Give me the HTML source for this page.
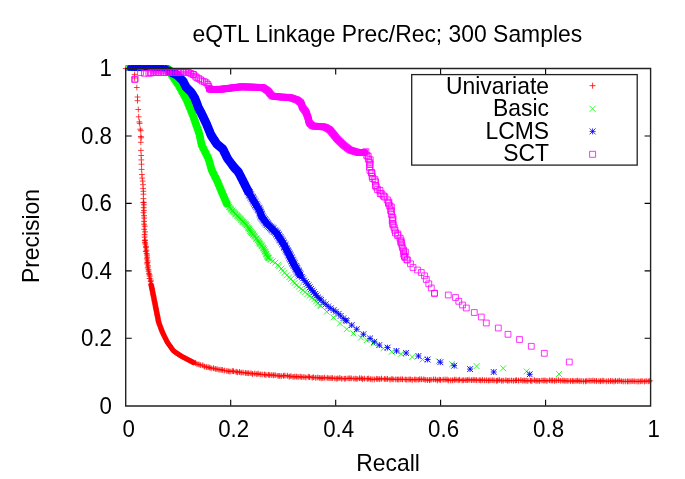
<!DOCTYPE html>
<html><head><meta charset="utf-8"><style>
html,body{margin:0;padding:0;background:#fff;width:685px;height:479px;overflow:hidden}
svg{display:block;will-change:transform}
text{font-family:"Liberation Sans",sans-serif}
</style></head><body>
<svg width="685" height="479" viewBox="0 0 685 479">
<rect width="685" height="479" fill="#fff"/>
<path d="M143.7 202.3 L143.8 214.6 L144.6 229.2 L145.1 240.9 L146.0 249.7 L147.0 258.5 L148.1 268.7 L150.2 279.0 L151.2 285.0" fill="none" stroke="#ff0000" stroke-width="3.0" stroke-linejoin="round" stroke-linecap="round" opacity="0.3"/>
<path d="M140.5 202.6H146.3M143.4 199.7V205.5M141.0 204.8H146.8M143.9 201.9V207.7M140.8 207.7H146.6M143.7 204.8V210.6M141.0 210.6H146.8M143.9 207.7V213.5M140.6 212.7H146.4M143.5 209.8V215.6M141.2 215.7H147.0M144.1 212.8V218.6M141.3 218.1H147.1M144.2 215.2V221.0M141.2 221.4H147.0M144.1 218.5V224.3M141.2 224.2H147.0M144.1 221.3V227.1M141.9 226.2H147.7M144.8 223.3V229.1M141.3 229.3H147.1M144.2 226.4V232.2M142.2 231.9H148.0M145.1 229.0V234.8M141.7 234.6H147.5M144.6 231.7V237.5M141.7 237.1H147.5M144.6 234.2V240.0M142.1 240.1H147.9M145.0 237.2V243.0" fill="none" stroke="#ff0000" stroke-width="1.0" opacity="0.8"/>
<path d="M145.1 240.9 L146.0 249.7 L147.0 258.5 L148.1 268.7 L150.2 279.0 L151.2 285.0" fill="none" stroke="#ff0000" stroke-width="3.5" stroke-linejoin="round" stroke-linecap="round" opacity="0.45"/>
<path d="M141.9 240.6H147.7M144.8 237.7V243.5M142.1 242.7H147.9M145.0 239.8V245.6M142.4 244.0H148.2M145.3 241.1V246.9M143.1 246.3H148.9M146.0 243.4V249.2M143.1 247.7H148.9M146.0 244.8V250.6M143.6 250.2H149.4M146.5 247.3V253.1M142.9 251.5H148.7M145.8 248.6V254.4M143.7 253.6H149.5M146.6 250.7V256.5M144.2 255.1H150.0M147.1 252.2V258.0M144.3 257.2H150.1M147.2 254.3V260.1M143.9 258.9H149.7M146.8 256.0V261.8M144.7 260.9H150.5M147.6 258.0V263.8M144.5 262.5H150.3M147.4 259.6V265.4M144.2 263.9H150.0M147.1 261.0V266.8M145.2 265.9H151.0M148.1 263.0V268.8M144.8 267.8H150.6M147.7 264.9V270.7M145.6 269.7H151.4M148.5 266.8V272.6M145.6 271.2H151.4M148.5 268.3V274.1M146.1 273.3H151.9M149.0 270.4V276.2M146.5 274.7H152.3M149.4 271.8V277.6M146.8 276.1H152.6M149.7 273.2V279.0M146.7 278.5H152.5M149.6 275.6V281.4M148.0 280.2H153.8M150.9 277.3V283.1M147.7 281.6H153.5M150.6 278.7V284.5M148.1 284.1H153.9M151.0 281.2V287.0" fill="none" stroke="#ff0000" stroke-width="1.0" opacity="0.85"/>
<path d="M151.2 285.0 L153.8 297.5 L156.2 310.0 L158.8 322.5 L162.5 332.5 L167.5 342.5 L173.8 351.2 L181.7 356.4 L193.4 362.5" fill="none" stroke="#ff0000" stroke-width="5.0" stroke-linejoin="round" stroke-linecap="round" opacity="1"/>
<path d="M148.3 285.0H154.2M151.2 282.1V287.9M148.6 286.2H154.4M151.5 283.3V289.1M148.8 287.4H154.6M151.7 284.5V290.3M149.1 288.5H154.9M152.0 285.6V291.4M149.3 289.7H155.1M152.2 286.8V292.6M149.5 290.9H155.3M152.4 288.0V293.8M149.8 292.1H155.6M152.7 289.2V295.0M150.0 293.2H155.8M152.9 290.3V296.1M150.2 294.4H156.0M153.1 291.5V297.3M150.5 295.6H156.3M153.4 292.7V298.5M150.7 296.8H156.5M153.6 293.9V299.7M150.9 297.9H156.7M153.8 295.0V300.8M151.2 299.1H157.0M154.1 296.2V302.0M151.4 300.3H157.2M154.3 297.4V303.2M151.6 301.5H157.4M154.5 298.6V304.4M151.9 302.7H157.7M154.8 299.8V305.6M152.1 303.8H157.9M155.0 300.9V306.7M152.4 305.0H158.2M155.3 302.1V307.9M152.6 306.2H158.4M155.5 303.3V309.1M152.8 307.4H158.6M155.7 304.5V310.3M153.1 308.5H158.9M156.0 305.6V311.4M153.3 309.7H159.1M156.2 306.8V312.6M153.5 310.9H159.3M156.4 308.0V313.8M153.8 312.1H159.6M156.7 309.2V315.0M154.0 313.2H159.8M156.9 310.3V316.1M154.2 314.4H160.0M157.1 311.5V317.3M154.5 315.6H160.3M157.4 312.7V318.5M154.7 316.8H160.5M157.6 313.9V319.7M154.9 317.9H160.7M157.8 315.0V320.8M155.2 319.1H161.0M158.1 316.2V322.0M155.4 320.3H161.2M158.3 317.4V323.2M155.6 321.5H161.4M158.5 318.6V324.4M155.9 322.6H161.7M158.8 319.7V325.5M156.3 323.8H162.1M159.2 320.9V326.7M156.7 324.9H162.5M159.6 322.0V327.8M157.2 326.0H163.0M160.1 323.1V328.9M157.6 327.1H163.4M160.5 324.2V330.0M158.0 328.3H163.8M160.9 325.4V331.2M158.4 329.4H164.2M161.3 326.5V332.3M158.9 330.5H164.7M161.8 327.6V333.4M159.3 331.6H165.1M162.2 328.7V334.5M159.7 332.7H165.5M162.6 329.8V335.6M160.3 333.8H166.1M163.2 330.9V336.7M160.8 334.9H166.6M163.7 332.0V337.8M161.3 336.0H167.1M164.2 333.1V338.9M161.9 337.0H167.7M164.8 334.1V339.9M162.4 338.1H168.2M165.3 335.2V341.0M162.9 339.2H168.7M165.8 336.3V342.1M163.5 340.3H169.3M166.4 337.4V343.2M164.0 341.3H169.8M166.9 338.4V344.2M164.6 342.4H170.4M167.5 339.5V345.3M165.2 343.4H171.0M168.1 340.5V346.3M165.9 344.4H171.7M168.8 341.5V347.3M166.6 345.3H172.4M169.5 342.4V348.2M167.3 346.3H173.1M170.2 343.4V349.2M168.0 347.3H173.8M170.9 344.4V350.2M168.7 348.3H174.5M171.6 345.4V351.2M169.4 349.3H175.2M172.3 346.4V352.2M170.1 350.2H175.9M173.0 347.3V353.1M170.8 351.2H176.6M173.7 348.3V354.1M171.8 351.9H177.6M174.7 349.0V354.8M172.8 352.5H178.6M175.7 349.6V355.4M173.8 353.2H179.6M176.7 350.3V356.1M174.8 353.8H180.6M177.7 350.9V356.7M175.8 354.5H181.6M178.7 351.6V357.4M176.8 355.1H182.6M179.7 352.2V358.0M177.9 355.8H183.7M180.8 352.9V358.7M178.9 356.4H184.7M181.8 353.5V359.3M179.9 357.0H185.7M182.8 354.1V359.9M181.0 357.5H186.8M183.9 354.6V360.4M182.1 358.1H187.9M185.0 355.2V361.0M183.1 358.7H188.9M186.0 355.8V361.6M184.2 359.2H190.0M187.1 356.3V362.1M185.2 359.8H191.0M188.1 356.9V362.7M186.3 360.3H192.1M189.2 357.4V363.2M187.4 360.9H193.2M190.3 358.0V363.8M188.4 361.4H194.2M191.3 358.5V364.3M189.5 362.0H195.3M192.4 359.1V364.9" fill="none" stroke="#ff0000" stroke-width="1.0" opacity="0.85"/>
<path d="M193.4 362.5 L205.0 366.6 L216.7 369.2 L228.4 371.0 L240.0 372.4 L250.0 373.4 L275.0 375.3 L294.0 376.6 L330.0 378.2 L410.0 379.6 L470.0 380.2 L540.0 380.6 L600.0 381.0 L650.0 381.3" fill="none" stroke="#ff0000" stroke-width="4.5" stroke-linejoin="round" stroke-linecap="round" opacity="0.3"/>
<path d="M190.8 362.5H196.6M193.7 359.6V365.4M192.7 362.9H198.5M195.6 360.0V365.8M194.1 364.2H199.9M197.0 361.3V367.1M196.0 364.4H201.8M198.9 361.5V367.3M197.4 365.1H203.2M200.3 362.2V368.0M199.9 365.2H205.7M202.8 362.3V368.1M201.5 366.6H207.3M204.4 363.7V369.5M203.5 367.1H209.3M206.4 364.2V370.0M205.2 367.2H211.0M208.1 364.3V370.1M206.8 367.6H212.6M209.7 364.7V370.5M208.2 368.4H214.0M211.1 365.5V371.3M210.6 368.2H216.4M213.5 365.3V371.1M212.4 368.9H218.2M215.3 366.0V371.8M214.1 369.1H219.9M217.0 366.2V372.0M216.1 369.7H221.9M219.0 366.8V372.6M218.1 369.8H223.9M221.0 366.9V372.7M219.4 369.9H225.2M222.3 367.0V372.8M221.4 370.5H227.2M224.3 367.6V373.4M224.0 371.0H229.8M226.9 368.1V373.9M225.8 371.3H231.6M228.7 368.4V374.2M227.1 371.6H232.9M230.0 368.7V374.5M229.4 371.0H235.2M232.3 368.1V373.9M230.6 371.2H236.4M233.5 368.3V374.1M233.3 371.7H239.1M236.2 368.8V374.6M234.5 372.3H240.3M237.4 369.4V375.2M236.6 371.9H242.4M239.5 369.0V374.8M238.3 372.6H244.1M241.2 369.7V375.5M240.2 372.5H246.0M243.1 369.6V375.4M242.7 372.9H248.5M245.6 370.0V375.8M244.2 373.1H250.0M247.1 370.2V376.0M245.8 373.2H251.6M248.7 370.3V376.1M248.1 373.2H253.9M251.0 370.3V376.1M249.6 374.0H255.4M252.5 371.1V376.9M251.9 373.5H257.7M254.8 370.6V376.4M253.9 374.2H259.7M256.8 371.3V377.1M255.2 373.6H261.0M258.1 370.7V376.5M257.3 374.4H263.1M260.2 371.5V377.3M259.2 374.5H265.0M262.1 371.6V377.4M261.6 374.5H267.4M264.5 371.6V377.4M263.0 375.1H268.8M265.9 372.2V378.0M265.5 374.8H271.3M268.4 371.9V377.7M266.8 375.1H272.6M269.7 372.2V378.0M268.9 375.1H274.7M271.8 372.2V378.0M270.7 375.3H276.5M273.6 372.4V378.2M272.3 375.1H278.1M275.2 372.2V378.0M275.1 375.9H280.9M278.0 373.0V378.8M276.4 376.0H282.2M279.3 373.1V378.9M278.3 376.2H284.1M281.2 373.3V379.1M280.6 375.8H286.4M283.5 372.9V378.7M282.0 375.5H287.8M284.9 372.6V378.4M284.5 375.7H290.3M287.4 372.8V378.6M286.4 376.7H292.2M289.3 373.8V379.6M288.0 376.1H293.8M290.9 373.2V379.0M290.2 377.0H296.0M293.1 374.1V379.9M291.9 376.6H297.7M294.8 373.7V379.5M293.5 376.6H299.3M296.4 373.7V379.5M295.2 377.0H301.0M298.1 374.1V379.9M297.3 376.6H303.1M300.2 373.7V379.5M298.9 377.1H304.7M301.8 374.2V380.0M301.0 377.0H306.8M303.9 374.1V379.9M302.9 377.5H308.7M305.8 374.6V380.4M305.4 376.7H311.2M308.3 373.8V379.6M306.6 377.1H312.4M309.5 374.2V380.0M309.3 377.7H315.1M312.2 374.8V380.6M310.5 377.2H316.3M313.4 374.3V380.1M312.8 377.9H318.6M315.7 375.0V380.8M314.9 377.5H320.7M317.8 374.6V380.4M316.8 377.9H322.6M319.7 375.0V380.8M318.3 378.3H324.1M321.2 375.4V381.2M319.9 378.1H325.7M322.8 375.2V381.0M321.7 377.6H327.5M324.6 374.7V380.5M324.4 377.8H330.2M327.3 374.9V380.7M326.1 378.2H331.9M329.0 375.3V381.1M328.1 378.1H333.9M331.0 375.2V381.0M329.5 378.0H335.3M332.4 375.1V380.9M332.0 378.4H337.8M334.9 375.5V381.3M333.9 378.7H339.7M336.8 375.8V381.6M335.0 378.4H340.8M337.9 375.5V381.3M336.9 377.9H342.7M339.8 375.0V380.8M338.8 378.8H344.6M341.7 375.9V381.7M341.4 378.8H347.2M344.3 375.9V381.7M342.8 378.6H348.6M345.7 375.7V381.5M345.2 378.4H351.0M348.1 375.5V381.3M346.9 378.3H352.7M349.8 375.4V381.2M348.3 378.3H354.1M351.2 375.4V381.2M351.0 378.7H356.8M353.9 375.8V381.6M352.9 378.6H358.7M355.8 375.7V381.5M354.2 379.0H360.0M357.1 376.1V381.9M356.6 378.2H362.4M359.5 375.3V381.1M358.4 378.3H364.2M361.3 375.4V381.2M359.7 379.2H365.5M362.6 376.3V382.1M361.5 378.6H367.3M364.4 375.7V381.5M364.4 378.8H370.2M367.3 375.9V381.7M365.4 378.5H371.2M368.3 375.6V381.4M367.4 379.2H373.2M370.3 376.3V382.1M369.2 379.4H375.0M372.1 376.5V382.3M371.4 379.4H377.2M374.3 376.5V382.3M373.8 378.8H379.6M376.7 375.9V381.7M375.0 379.0H380.8M377.9 376.1V381.9M376.8 379.2H382.6M379.7 376.3V382.1M378.6 378.6H384.4M381.5 375.7V381.5M381.5 378.9H387.3M384.4 376.0V381.8M383.0 379.1H388.8M385.9 376.2V382.0M384.6 378.8H390.4M387.5 375.9V381.7M387.1 379.7H392.9M390.0 376.8V382.6M389.0 378.9H394.8M391.9 376.0V381.8M390.2 379.4H396.0M393.1 376.5V382.3M392.9 379.4H398.7M395.8 376.5V382.3M394.5 379.5H400.3M397.4 376.6V382.4M395.9 379.5H401.7M398.8 376.6V382.4M397.9 379.2H403.7M400.8 376.3V382.1M399.6 379.3H405.4M402.5 376.4V382.2M402.4 379.5H408.2M405.3 376.6V382.4M403.9 379.7H409.7M406.8 376.8V382.6M406.1 379.5H411.9M409.0 376.6V382.4M407.4 379.4H413.2M410.3 376.5V382.3M409.3 380.0H415.1M412.2 377.1V382.9M411.8 379.4H417.6M414.7 376.5V382.3M413.1 379.7H418.9M416.0 376.8V382.6M415.3 379.8H421.1M418.2 376.9V382.7M416.8 379.2H422.6M419.7 376.3V382.1M418.7 379.3H424.5M421.6 376.4V382.2M420.9 379.3H426.7M423.8 376.4V382.2M422.3 379.9H428.1M425.2 377.0V382.8M424.5 380.1H430.3M427.4 377.2V383.0M426.6 380.2H432.4M429.5 377.3V383.1M428.1 379.8H433.9M431.0 376.9V382.7M430.7 379.4H436.5M433.6 376.5V382.3M432.7 379.5H438.5M435.6 376.6V382.4M434.5 380.4H440.3M437.4 377.5V383.3M436.4 379.7H442.2M439.3 376.8V382.6M437.6 379.9H443.4M440.5 377.0V382.8M440.3 379.7H446.1M443.2 376.8V382.6M442.2 379.6H448.0M445.1 376.7V382.5M444.1 379.5H449.9M447.0 376.6V382.4M445.4 380.4H451.2M448.3 377.5V383.3M447.8 380.4H453.6M450.7 377.5V383.3M449.7 380.3H455.5M452.6 377.4V383.2M451.5 379.7H457.3M454.4 376.8V382.6M453.1 379.7H458.9M456.0 376.8V382.6M455.3 380.2H461.1M458.2 377.3V383.1M456.7 379.7H462.5M459.6 376.8V382.6M459.3 380.4H465.1M462.2 377.5V383.3M460.8 380.2H466.6M463.7 377.3V383.1M463.0 380.1H468.8M465.9 377.2V383.0M464.5 380.0H470.3M467.4 377.1V382.9M466.2 379.7H472.0M469.1 376.8V382.6M468.5 380.1H474.3M471.4 377.2V383.0M470.3 379.8H476.1M473.2 376.9V382.7M472.0 379.9H477.8M474.9 377.0V382.8M473.7 380.0H479.5M476.6 377.1V382.9M476.3 380.1H482.1M479.2 377.2V383.0M477.8 380.4H483.6M480.7 377.5V383.3M479.5 379.8H485.3M482.4 376.9V382.7M481.7 380.3H487.5M484.6 377.4V383.2M483.7 380.2H489.5M486.6 377.3V383.1M485.7 380.5H491.5M488.6 377.6V383.4M487.1 380.3H492.9M490.0 377.4V383.2M489.3 380.1H495.1M492.2 377.2V383.0M491.1 380.4H496.9M494.0 377.5V383.3M493.5 380.8H499.3M496.4 377.9V383.7M494.7 380.5H500.5M497.6 377.6V383.4M496.4 379.9H502.2M499.3 377.0V382.8M498.8 380.8H504.6M501.7 377.9V383.7M500.3 380.7H506.1M503.2 377.8V383.6M503.0 380.2H508.8M505.9 377.3V383.1M504.7 380.8H510.5M507.6 377.9V383.7M506.2 380.6H512.0M509.1 377.7V383.5M508.5 380.5H514.3M511.4 377.6V383.4M510.5 380.8H516.3M513.4 377.9V383.7M512.5 380.5H518.3M515.4 377.6V383.4M513.6 380.2H519.4M516.5 377.3V383.1M515.6 380.5H521.4M518.5 377.6V383.4M518.0 380.0H523.8M520.9 377.1V382.9M519.9 380.7H525.7M522.8 377.8V383.6M521.4 380.5H527.2M524.3 377.6V383.4M523.1 380.8H528.9M526.0 377.9V383.7M524.9 381.0H530.7M527.8 378.1V383.9M527.6 380.7H533.4M530.5 377.8V383.6M528.9 381.0H534.7M531.8 378.1V383.9M531.5 380.2H537.3M534.4 377.3V383.1M533.2 380.9H539.0M536.1 378.0V383.8M535.0 380.8H540.8M537.9 377.9V383.7M536.7 381.0H542.5M539.6 378.1V383.9M539.1 380.5H544.9M542.0 377.6V383.4M540.9 380.6H546.7M543.8 377.7V383.5M542.1 380.5H547.9M545.0 377.6V383.4M544.0 381.1H549.8M546.9 378.2V384.0M546.7 380.3H552.5M549.6 377.4V383.2M548.3 380.6H554.1M551.2 377.7V383.5M549.7 380.5H555.5M552.6 377.6V383.4M551.7 380.9H557.5M554.6 378.0V383.8M553.4 380.4H559.2M556.3 377.5V383.3M555.7 380.2H561.5M558.6 377.3V383.1M557.8 380.8H563.6M560.7 377.9V383.7M559.9 380.5H565.7M562.8 377.6V383.4M561.3 380.8H567.1M564.2 377.9V383.7M563.1 380.9H568.9M566.0 378.0V383.8M565.0 381.0H570.8M567.9 378.1V383.9M567.5 381.1H573.3M570.4 378.2V384.0M569.5 380.9H575.3M572.4 378.0V383.8M571.0 381.2H576.8M573.9 378.3V384.1M573.1 380.9H578.9M576.0 378.0V383.8M574.7 380.6H580.5M577.6 377.7V383.5M576.3 381.2H582.1M579.2 378.3V384.1M578.2 381.1H584.0M581.1 378.2V384.0M580.5 381.4H586.3M583.4 378.5V384.3M582.6 381.4H588.4M585.5 378.5V384.3M583.9 380.9H589.7M586.8 378.0V383.8M586.2 380.7H592.0M589.1 377.8V383.6M588.1 380.8H593.9M591.0 377.9V383.7M590.0 380.5H595.8M592.9 377.6V383.4M591.8 380.9H597.6M594.7 378.0V383.8M593.6 380.9H599.4M596.5 378.0V383.8M596.0 381.2H601.8M598.9 378.3V384.1M597.6 381.2H603.4M600.5 378.3V384.1M599.3 380.7H605.1M602.2 377.8V383.6M600.9 380.8H606.7M603.8 377.9V383.7M603.4 381.4H609.2M606.3 378.5V384.3M605.5 381.1H611.3M608.4 378.2V384.0M607.6 381.0H613.4M610.5 378.1V383.9M609.3 381.0H615.1M612.2 378.1V383.9M611.1 381.6H616.9M614.0 378.7V384.5M612.6 380.8H618.4M615.5 377.9V383.7M614.8 381.1H620.6M617.7 378.2V384.0M616.4 380.6H622.2M619.3 377.7V383.5M618.4 381.1H624.2M621.3 378.2V384.0M620.3 381.5H626.1M623.2 378.6V384.4M622.4 381.4H628.2M625.3 378.5V384.3M624.6 381.4H630.4M627.5 378.5V384.3M626.1 381.4H631.9M629.0 378.5V384.3M628.1 381.3H633.9M631.0 378.4V384.2M630.0 381.1H635.8M632.9 378.2V384.0M631.9 381.3H637.7M634.8 378.4V384.2M634.1 381.5H639.9M637.0 378.6V384.4M635.9 381.5H641.7M638.8 378.6V384.4M637.8 381.3H643.6M640.7 378.4V384.2M639.2 381.0H645.0M642.1 378.1V383.9M641.5 381.6H647.3M644.4 378.7V384.5M643.2 380.9H649.0M646.1 378.0V383.8M645.4 381.3H651.2M648.3 378.4V384.2M646.9 380.8H652.7M649.8 377.9V383.7" fill="none" stroke="#ff0000" stroke-width="1.0" opacity="0.8"/>
<path d="M122.8 68.5H128.6M125.7 65.6V71.4M131.7 74.4H137.5M134.6 71.5V77.3M131.7 78.0H137.5M134.6 75.1V80.9M133.9 87.5H139.7M136.8 84.6V90.4M134.6 97.0H140.4M137.5 94.1V99.9M134.6 100.7H140.4M137.5 97.8V103.6M135.4 109.5H141.2M138.3 106.6V112.4M135.8 116.8H141.6M138.7 113.9V119.7M136.4 121.9H142.2M139.3 119.0V124.8M136.8 123.4H142.6M139.7 120.5V126.3M137.3 129.2H143.1M140.2 126.3V132.1M137.9 130.7H143.7M140.8 127.8V133.6M137.9 136.5H143.7M140.8 133.6V139.4M138.3 137.8H144.1M141.2 134.9V140.7M137.9 142.3H143.7M140.8 139.4V145.2M138.0 150.4H143.8M140.9 147.5V153.3M138.3 155.5H144.1M141.2 152.6V158.4M138.4 159.9H144.2M141.3 157.0V162.8M138.6 164.2H144.4M141.5 161.3V167.1M138.7 169.4H144.5M141.6 166.5V172.3M139.0 174.5H144.8M141.9 171.6V177.4M139.3 178.1H145.1M142.2 175.2V181.0M139.8 181.1H145.6M142.7 178.2V184.0M140.1 184.7H145.9M143.0 181.8V187.6M140.2 188.4H146.0M143.1 185.5V191.3M140.5 191.3H146.3M143.4 188.4V194.2M140.5 194.2H146.3M143.4 191.3V197.1M140.5 198.6H146.3M143.4 195.7V201.5M140.8 202.3H146.6M143.7 199.4V205.2" fill="none" stroke="#ff0000" stroke-width="1.0" opacity="0.75"/>
<path d="M128.3 68.0 L168.0 69.0" fill="none" stroke="#00ff00" stroke-width="3.0" stroke-linejoin="round" stroke-linecap="round" opacity="1"/>
<path d="M125.4 65.1L131.2 70.9M125.4 70.9L131.2 65.1M126.9 65.1L132.7 70.9M126.9 70.9L132.7 65.1M128.4 65.2L134.2 71.0M128.4 71.0L134.2 65.2M129.9 65.2L135.7 71.0M129.9 71.0L135.7 65.2M131.4 65.3L137.2 71.1M131.4 71.1L137.2 65.3M132.9 65.3L138.7 71.1M132.9 71.1L138.7 65.3M134.4 65.3L140.2 71.1M134.4 71.1L140.2 65.3M135.9 65.4L141.7 71.2M135.9 71.2L141.7 65.4M137.4 65.4L143.2 71.2M137.4 71.2L143.2 65.4M138.9 65.4L144.7 71.2M138.9 71.2L144.7 65.4M140.4 65.5L146.2 71.3M140.4 71.3L146.2 65.5M141.9 65.5L147.7 71.3M141.9 71.3L147.7 65.5M143.4 65.6L149.2 71.4M143.4 71.4L149.2 65.6M144.9 65.6L150.7 71.4M144.9 71.4L150.7 65.6M146.4 65.6L152.2 71.4M146.4 71.4L152.2 65.6M147.9 65.7L153.7 71.5M147.9 71.5L153.7 65.7M149.4 65.7L155.2 71.5M149.4 71.5L155.2 65.7M150.9 65.7L156.7 71.5M150.9 71.5L156.7 65.7M152.4 65.8L158.2 71.6M152.4 71.6L158.2 65.8M153.9 65.8L159.7 71.6M153.9 71.6L159.7 65.8M155.4 65.9L161.2 71.7M155.4 71.7L161.2 65.9M156.9 65.9L162.7 71.7M156.9 71.7L162.7 65.9M158.4 65.9L164.2 71.7M158.4 71.7L164.2 65.9M159.9 66.0L165.7 71.8M159.9 71.8L165.7 66.0M161.4 66.0L167.2 71.8M161.4 71.8L167.2 66.0M162.9 66.0L168.7 71.8M162.9 71.8L168.7 66.0M164.4 66.1L170.2 71.9M164.4 71.9L170.2 66.1" fill="none" stroke="#00ff00" stroke-width="1.0" opacity="0.85"/>
<path d="M168.0 69.0 L173.0 77.0 L179.0 86.0 L183.5 94.3 L186.7 100.0 L193.4 116.7 L199.2 133.4 L201.7 145.1 L208.4 158.4 L211.7 170.0 L216.7 180.0 L221.7 191.7 L226.7 203.4" fill="none" stroke="#00ff00" stroke-width="7.6" stroke-linejoin="round" stroke-linecap="round" opacity="1"/>
<path d="M165.1 66.1L170.9 71.9M165.1 71.9L170.9 66.1M165.9 67.4L171.7 73.2M165.9 73.2L171.7 67.4M166.7 68.6L172.5 74.4M166.7 74.4L172.5 68.6M167.5 69.9L173.3 75.7M167.5 75.7L173.3 69.9M168.3 71.2L174.1 77.0M168.3 77.0L174.1 71.2M169.1 72.5L174.9 78.3M169.1 78.3L174.9 72.5M169.9 73.7L175.7 79.5M169.9 79.5L175.7 73.7M170.7 75.0L176.5 80.8M170.7 80.8L176.5 75.0M171.5 76.2L177.3 82.0M171.5 82.0L177.3 76.2M172.4 77.5L178.2 83.3M172.4 83.3L178.2 77.5M173.2 78.7L179.0 84.5M173.2 84.5L179.0 78.7M174.0 80.0L179.8 85.8M174.0 85.8L179.8 80.0M174.9 81.2L180.7 87.0M174.9 87.0L180.7 81.2M175.7 82.5L181.5 88.3M175.7 88.3L181.5 82.5M176.5 83.8L182.3 89.6M176.5 89.6L182.3 83.8M177.2 85.1L183.0 90.9M177.2 90.9L183.0 85.1M177.9 86.4L183.7 92.2M177.9 92.2L183.7 86.4M178.6 87.7L184.4 93.5M178.6 93.5L184.4 87.7M179.3 89.0L185.1 94.8M179.3 94.8L185.1 89.0M180.0 90.4L185.8 96.2M180.0 96.2L185.8 90.4M180.8 91.7L186.6 97.5M180.8 97.5L186.6 91.7M181.5 93.0L187.3 98.8M181.5 98.8L187.3 93.0M182.2 94.3L188.0 100.1M182.2 100.1L188.0 94.3M183.0 95.6L188.8 101.4M183.0 101.4L188.8 95.6M183.7 96.9L189.5 102.7M183.7 102.7L189.5 96.9M184.3 98.3L190.1 104.1M184.3 104.1L190.1 98.3M184.8 99.7L190.6 105.5M184.8 105.5L190.6 99.7M185.4 101.1L191.2 106.9M185.4 106.9L191.2 101.1M185.9 102.5L191.7 108.3M185.9 108.3L191.7 102.5M186.5 103.8L192.3 109.6M186.5 109.6L192.3 103.8M187.1 105.2L192.9 111.0M187.1 111.0L192.9 105.2M187.6 106.6L193.4 112.4M187.6 112.4L193.4 106.6M188.2 108.0L194.0 113.8M188.2 113.8L194.0 108.0M188.7 109.4L194.5 115.2M188.7 115.2L194.5 109.4M189.3 110.8L195.1 116.6M189.3 116.6L195.1 110.8M189.9 112.2L195.7 118.0M189.9 118.0L195.7 112.2M190.4 113.6L196.2 119.4M190.4 119.4L196.2 113.6M190.9 115.0L196.7 120.8M190.9 120.8L196.7 115.0M191.4 116.4L197.2 122.2M191.4 122.2L197.2 116.4M191.9 117.8L197.7 123.6M191.9 123.6L197.7 117.8M192.4 119.3L198.2 125.1M192.4 125.1L198.2 119.3M192.9 120.7L198.7 126.5M192.9 126.5L198.7 120.7M193.4 122.1L199.2 127.9M193.4 127.9L199.2 122.1M193.9 123.5L199.7 129.3M193.9 129.3L199.7 123.5M194.4 124.9L200.2 130.7M194.4 130.7L200.2 124.9M194.9 126.3L200.7 132.1M194.9 132.1L200.7 126.3M195.3 127.8L201.1 133.6M195.3 133.6L201.1 127.8M195.8 129.2L201.6 135.0M195.8 135.0L201.6 129.2M196.3 130.6L202.1 136.4M196.3 136.4L202.1 130.6M196.6 132.1L202.4 137.9M196.6 137.9L202.4 132.1M196.9 133.5L202.7 139.3M196.9 139.3L202.7 133.5M197.3 135.0L203.1 140.8M197.3 140.8L203.1 135.0M197.6 136.5L203.4 142.3M197.6 142.3L203.4 136.5M197.9 137.9L203.7 143.7M197.9 143.7L203.7 137.9M198.2 139.4L204.0 145.2M198.2 145.2L204.0 139.4M198.5 140.9L204.3 146.7M198.5 146.7L204.3 140.9M198.9 142.3L204.7 148.1M198.9 148.1L204.7 142.3M199.5 143.7L205.3 149.5M199.5 149.5L205.3 143.7M200.2 145.0L206.0 150.8M200.2 150.8L206.0 145.0M200.9 146.3L206.7 152.1M200.9 152.1L206.7 146.3M201.6 147.7L207.4 153.5M201.6 153.5L207.4 147.7M202.2 149.0L208.0 154.8M202.2 154.8L208.0 149.0M202.9 150.4L208.7 156.2M202.9 156.2L208.7 150.4M203.6 151.7L209.4 157.5M203.6 157.5L209.4 151.7M204.3 153.0L210.1 158.8M204.3 158.8L210.1 153.0M204.9 154.4L210.7 160.2M204.9 160.2L210.7 154.4M205.6 155.7L211.4 161.5M205.6 161.5L211.4 155.7M206.0 157.2L211.8 163.0M206.0 163.0L211.8 157.2M206.4 158.6L212.2 164.4M206.4 164.4L212.2 158.6M206.8 160.1L212.6 165.9M206.8 165.9L212.6 160.1M207.2 161.5L213.0 167.3M207.2 167.3L213.0 161.5M207.6 162.9L213.4 168.7M207.6 168.7L213.4 162.9M208.0 164.4L213.8 170.2M208.0 170.2L213.8 164.4M208.4 165.8L214.2 171.6M208.4 171.6L214.2 165.8M208.9 167.3L214.7 173.1M208.9 173.1L214.7 167.3M209.6 168.6L215.4 174.4M209.6 174.4L215.4 168.6M210.2 169.9L216.0 175.7M210.2 175.7L216.0 169.9M210.9 171.3L216.7 177.1M210.9 177.1L216.7 171.3M211.6 172.6L217.4 178.4M211.6 178.4L217.4 172.6M212.2 174.0L218.0 179.8M212.2 179.8L218.0 174.0M212.9 175.3L218.7 181.1M212.9 181.1L218.7 175.3M213.6 176.7L219.4 182.5M213.6 182.5L219.4 176.7M214.2 178.0L220.0 183.8M214.2 183.8L220.0 178.0M214.8 179.4L220.6 185.2M214.8 185.2L220.6 179.4M215.4 180.8L221.2 186.6M215.4 186.6L221.2 180.8M216.0 182.2L221.8 188.0M216.0 188.0L221.8 182.2M216.6 183.5L222.4 189.3M216.6 189.3L222.4 183.5M217.1 184.9L222.9 190.7M217.1 190.7L222.9 184.9M217.7 186.3L223.5 192.1M217.7 192.1L223.5 186.3M218.3 187.7L224.1 193.5M218.3 193.5L224.1 187.7M218.9 189.1L224.7 194.9M218.9 194.9L224.7 189.1M219.5 190.4L225.3 196.2M219.5 196.2L225.3 190.4M220.1 191.8L225.9 197.6M220.1 197.6L225.9 191.8M220.7 193.2L226.5 199.0M220.7 199.0L226.5 193.2M221.3 194.6L227.1 200.4M221.3 200.4L227.1 194.6M221.9 196.0L227.7 201.8M221.9 201.8L227.7 196.0M222.4 197.3L228.2 203.1M222.4 203.1L228.2 197.3M223.0 198.7L228.8 204.5M223.0 204.5L228.8 198.7M223.6 200.1L229.4 205.9M223.6 205.9L229.4 200.1" fill="none" stroke="#00ff00" stroke-width="1.0" opacity="0.85"/>
<path d="M226.7 203.4 L231.7 210.1 L238.6 216.7 L244.9 223.4 L249.9 230.1 L255.1 236.8 L260.1 243.5 L263.4 248.5 L268.4 258.4" fill="none" stroke="#00ff00" stroke-width="6.5" stroke-linejoin="round" stroke-linecap="round" opacity="0.4"/>
<path d="M223.8 200.7L229.6 206.5M223.8 206.5L229.6 200.7M224.5 201.4L230.3 207.2M224.5 207.2L230.3 201.4M225.5 202.1L231.3 207.9M225.5 207.9L231.3 202.1M226.1 204.1L231.9 209.9M226.1 209.9L231.9 204.1M227.1 204.6L232.9 210.4M227.1 210.4L232.9 204.6M227.9 205.8L233.7 211.6M227.9 211.6L233.7 205.8M228.2 206.5L234.0 212.3M228.2 212.3L234.0 206.5M229.7 207.5L235.5 213.3M229.7 213.3L235.5 207.5M229.8 208.9L235.6 214.7M229.8 214.7L235.6 208.9M231.2 209.4L237.0 215.2M231.2 215.2L237.0 209.4M232.2 210.6L238.0 216.4M232.2 216.4L238.0 210.6M232.8 211.5L238.6 217.3M232.8 217.3L238.6 211.5M234.2 212.5L240.0 218.3M234.2 218.3L240.0 212.5M234.7 213.2L240.5 219.0M234.7 219.0L240.5 213.2M235.6 214.1L241.4 219.9M235.6 219.9L241.4 214.1M236.5 215.2L242.3 221.0M236.5 221.0L242.3 215.2M238.0 215.7L243.8 221.5M238.0 221.5L243.8 215.7M238.3 217.3L244.1 223.1M238.3 223.1L244.1 217.3M239.7 218.1L245.5 223.9M239.7 223.9L245.5 218.1M239.9 219.1L245.7 224.9M239.9 224.9L245.7 219.1M241.4 219.5L247.2 225.3M241.4 225.3L247.2 219.5M242.0 220.9L247.8 226.7M242.0 226.7L247.8 220.9M243.2 221.4L249.0 227.2M243.2 227.2L249.0 221.4M243.8 222.4L249.6 228.2M243.8 228.2L249.6 222.4M244.9 223.7L250.7 229.5M244.9 229.5L250.7 223.7M245.6 225.1L251.4 230.9M245.6 230.9L251.4 225.1M246.1 225.6L251.9 231.4M246.1 231.4L251.9 225.6M246.8 226.5L252.6 232.3M246.8 232.3L252.6 226.5M247.2 228.2L253.0 234.0M247.2 234.0L253.0 228.2M248.2 229.2L254.0 235.0M248.2 235.0L254.0 229.2M248.9 230.2L254.7 236.0M248.9 236.0L254.7 230.2M250.2 230.8L256.0 236.6M250.2 236.6L256.0 230.8M250.4 231.9L256.2 237.7M250.4 237.7L256.2 231.9M251.6 232.7L257.4 238.5M251.6 238.5L257.4 232.7M252.0 233.7L257.8 239.5M252.0 239.5L257.8 233.7M253.2 235.5L259.0 241.3M253.2 241.3L259.0 235.5M253.6 235.7L259.4 241.5M253.6 241.5L259.4 235.7M254.9 237.5L260.7 243.3M254.9 243.3L260.7 237.5M255.9 238.4L261.7 244.2M255.9 244.2L261.7 238.4M256.1 239.7L261.9 245.5M256.1 245.5L261.9 239.7M256.6 240.5L262.4 246.3M256.6 246.3L262.4 240.5M257.3 241.3L263.1 247.1M257.3 247.1L263.1 241.3M258.5 242.4L264.3 248.2M258.5 248.2L264.3 242.4M258.8 243.3L264.6 249.1M258.8 249.1L264.6 243.3M260.2 244.6L266.0 250.4M260.2 250.4L266.0 244.6M260.7 245.5L266.5 251.3M260.7 251.3L266.5 245.5M261.4 246.8L267.2 252.6M261.4 252.6L267.2 246.8M261.9 248.5L267.7 254.3M261.9 254.3L267.7 248.5M262.8 248.8L268.6 254.6M262.8 254.6L268.6 248.8M263.2 250.8L269.0 256.6M263.2 256.6L269.0 250.8M263.3 251.5L269.1 257.3M263.3 257.3L269.1 251.5M264.2 253.2L270.0 259.0M264.2 259.0L270.0 253.2M264.6 254.3L270.4 260.1M264.6 260.1L270.4 254.3M265.5 254.7L271.3 260.5M265.5 260.5L271.3 254.7" fill="none" stroke="#00ff00" stroke-width="1.0" opacity="0.8"/>
<path d="M265.8 255.1L271.6 260.9M265.8 260.9L271.6 255.1M267.6 257.1L273.4 262.9M267.6 262.9L273.4 257.1M269.9 258.3L275.7 264.1M269.9 264.1L275.7 258.3M272.4 259.8L278.2 265.6M272.4 265.6L278.2 259.8M275.0 262.0L280.8 267.8M275.0 267.8L280.8 262.0M276.1 263.5L281.9 269.3M276.1 269.3L281.9 263.5M278.5 265.7L284.3 271.5M278.5 271.5L284.3 265.7M279.8 267.9L285.6 273.7M279.8 273.7L285.6 267.9M281.6 269.9L287.4 275.7M281.6 275.7L287.4 269.9M284.0 272.4L289.8 278.2M284.0 278.2L289.8 272.4M286.1 274.5L291.9 280.3M286.1 280.3L291.9 274.5M288.0 276.1L293.8 281.9M288.0 281.9L293.8 276.1M290.0 278.6L295.8 284.4M290.0 284.4L295.8 278.6M291.9 280.0L297.7 285.8M291.9 285.8L297.7 280.0M293.4 282.5L299.2 288.3M293.4 288.3L299.2 282.5M295.9 284.0L301.7 289.8M295.9 289.8L301.7 284.0M298.1 285.9L303.9 291.7M298.1 291.7L303.9 285.9M300.2 287.2L306.0 293.0M300.2 293.0L306.0 287.2M302.3 289.2L308.1 295.0M302.3 295.0L308.1 289.2M304.3 291.4L310.1 297.2M304.3 297.2L310.1 291.4M306.7 292.9L312.5 298.7M306.7 298.7L312.5 292.9M309.1 294.8L314.9 300.6M309.1 300.6L314.9 294.8M311.3 296.5L317.1 302.3M311.3 302.3L317.1 296.5M313.0 298.6L318.8 304.4M313.0 304.4L318.8 298.6M314.9 300.5L320.7 306.3M314.9 306.3L320.7 300.5M317.4 302.5L323.2 308.3M317.4 308.3L323.2 302.5" fill="none" stroke="#00ff00" stroke-width="1.0" opacity="0.8"/>
<path d="M317.9 303.0L323.7 308.8M317.9 308.8L323.7 303.0M323.8 308.8L329.6 314.6M323.8 314.6L329.6 308.8M330.5 314.6L336.3 320.4M330.5 320.4L336.3 314.6M337.1 320.5L342.9 326.3M337.1 326.3L342.9 320.5M343.8 326.3L349.6 332.1M343.8 332.1L349.6 326.3M350.5 330.5L356.3 336.3M350.5 336.3L356.3 330.5M358.0 334.7L363.8 340.5M358.0 340.5L363.8 334.7M363.8 337.2L369.6 343.0M363.8 343.0L369.6 337.2M370.5 340.5L376.3 346.3M370.5 346.3L376.3 340.5M380.5 345.5L386.3 351.3M380.5 351.3L386.3 345.5M388.9 348.9L394.7 354.7M388.9 354.7L394.7 348.9M398.1 350.9L403.9 356.7M398.1 356.7L403.9 350.9M409.4 354.1L415.2 359.9M409.4 359.9L415.2 354.1M419.6 356.6L425.4 362.4M419.6 362.4L425.4 356.6M435.9 358.3L441.7 364.1M435.9 364.1L441.7 358.3M449.2 361.3L455.0 367.1M449.2 367.1L455.0 361.3M473.7 363.2L479.5 369.0M473.7 369.0L479.5 363.2M500.3 365.4L506.1 371.2M500.3 371.2L506.1 365.4M523.8 368.5L529.6 374.3M523.8 374.3L529.6 368.5M556.1 371.1L561.9 376.9M556.1 376.9L561.9 371.1" fill="none" stroke="#00ff00" stroke-width="1.0" opacity="0.85"/>
<path d="M129.5 68.0 L166.0 68.0 L170.0 71.5" fill="none" stroke="#0000ff" stroke-width="5.0" stroke-linejoin="round" stroke-linecap="round" opacity="1"/>
<path d="M126.6 68.0H132.4M129.5 65.1V70.9M126.6 65.1L132.4 70.9M126.6 70.9L132.4 65.1M128.1 68.0H133.9M131.0 65.1V70.9M128.1 65.1L133.9 70.9M128.1 70.9L133.9 65.1M129.6 68.0H135.4M132.5 65.1V70.9M129.6 65.1L135.4 70.9M129.6 70.9L135.4 65.1M131.1 68.0H136.9M134.0 65.1V70.9M131.1 65.1L136.9 70.9M131.1 70.9L136.9 65.1M132.6 68.0H138.4M135.5 65.1V70.9M132.6 65.1L138.4 70.9M132.6 70.9L138.4 65.1M134.1 68.0H139.9M137.0 65.1V70.9M134.1 65.1L139.9 70.9M134.1 70.9L139.9 65.1M135.6 68.0H141.4M138.5 65.1V70.9M135.6 65.1L141.4 70.9M135.6 70.9L141.4 65.1M137.1 68.0H142.9M140.0 65.1V70.9M137.1 65.1L142.9 70.9M137.1 70.9L142.9 65.1M138.6 68.0H144.4M141.5 65.1V70.9M138.6 65.1L144.4 70.9M138.6 70.9L144.4 65.1M140.1 68.0H145.9M143.0 65.1V70.9M140.1 65.1L145.9 70.9M140.1 70.9L145.9 65.1M141.6 68.0H147.4M144.5 65.1V70.9M141.6 65.1L147.4 70.9M141.6 70.9L147.4 65.1M143.1 68.0H148.9M146.0 65.1V70.9M143.1 65.1L148.9 70.9M143.1 70.9L148.9 65.1M144.6 68.0H150.4M147.5 65.1V70.9M144.6 65.1L150.4 70.9M144.6 70.9L150.4 65.1M146.1 68.0H151.9M149.0 65.1V70.9M146.1 65.1L151.9 70.9M146.1 70.9L151.9 65.1M147.6 68.0H153.4M150.5 65.1V70.9M147.6 65.1L153.4 70.9M147.6 70.9L153.4 65.1M149.1 68.0H154.9M152.0 65.1V70.9M149.1 65.1L154.9 70.9M149.1 70.9L154.9 65.1M150.6 68.0H156.4M153.5 65.1V70.9M150.6 65.1L156.4 70.9M150.6 70.9L156.4 65.1M152.1 68.0H157.9M155.0 65.1V70.9M152.1 65.1L157.9 70.9M152.1 70.9L157.9 65.1M153.6 68.0H159.4M156.5 65.1V70.9M153.6 65.1L159.4 70.9M153.6 70.9L159.4 65.1M155.1 68.0H160.9M158.0 65.1V70.9M155.1 65.1L160.9 70.9M155.1 70.9L160.9 65.1M156.6 68.0H162.4M159.5 65.1V70.9M156.6 65.1L162.4 70.9M156.6 70.9L162.4 65.1M158.1 68.0H163.9M161.0 65.1V70.9M158.1 65.1L163.9 70.9M158.1 70.9L163.9 65.1M159.6 68.0H165.4M162.5 65.1V70.9M159.6 65.1L165.4 70.9M159.6 70.9L165.4 65.1M161.1 68.0H166.9M164.0 65.1V70.9M161.1 65.1L166.9 70.9M161.1 70.9L166.9 65.1M162.6 68.0H168.4M165.5 65.1V70.9M162.6 65.1L168.4 70.9M162.6 70.9L168.4 65.1M163.9 68.7H169.7M166.8 65.8V71.6M163.9 65.8L169.7 71.6M163.9 71.6L169.7 65.8M165.0 69.6H170.8M167.9 66.7V72.5M165.0 66.7L170.8 72.5M165.0 72.5L170.8 66.7M166.1 70.6H171.9M169.0 67.7V73.5M166.1 67.7L171.9 73.5M166.1 73.5L171.9 67.7" fill="none" stroke="#0000ff" stroke-width="1.0" opacity="0.9"/>
<path d="M170.0 71.5 L177.0 75.0 L183.0 81.0 L186.0 87.0 L191.0 92.0 L194.5 97.5 L196.7 103.0 L198.5 108.0 L201.0 112.5 L206.5 124.0 L211.0 135.0 L216.8 144.0 L222.8 149.0 L227.5 158.5 L233.8 167.0 L238.4 172.0 L242.5 180.0 L248.4 191.7" fill="none" stroke="#0000ff" stroke-width="8.8" stroke-linejoin="round" stroke-linecap="round" opacity="1"/>
<path d="M167.1 71.5H172.9M170.0 68.6V74.4M167.1 68.6L172.9 74.4M167.1 74.4L172.9 68.6M168.4 72.2H174.2M171.3 69.3V75.1M168.4 69.3L174.2 75.1M168.4 75.1L174.2 69.3M169.8 72.8H175.6M172.7 69.9V75.7M169.8 69.9L175.6 75.7M169.8 75.7L175.6 69.9M171.1 73.5H176.9M174.0 70.6V76.4M171.1 70.6L176.9 76.4M171.1 76.4L176.9 70.6M172.5 74.2H178.3M175.4 71.3V77.1M172.5 71.3L178.3 77.1M172.5 77.1L178.3 71.3M173.8 74.9H179.6M176.7 72.0V77.8M173.8 72.0L179.6 77.8M173.8 77.8L179.6 72.0M174.9 75.8H180.7M177.8 72.9V78.7M174.9 72.9L180.7 78.7M174.9 78.7L180.7 72.9M176.0 76.9H181.8M178.9 74.0V79.8M176.0 74.0L181.8 79.8M176.0 79.8L181.8 74.0M177.1 78.0H182.9M180.0 75.1V80.9M177.1 75.1L182.9 80.9M177.1 80.9L182.9 75.1M178.1 79.0H183.9M181.0 76.1V81.9M178.1 76.1L183.9 81.9M178.1 81.9L183.9 76.1M179.2 80.1H185.0M182.1 77.2V83.0M179.2 77.2L185.0 83.0M179.2 83.0L185.0 77.2M180.2 81.2H186.0M183.1 78.3V84.1M180.2 78.3L186.0 84.1M180.2 84.1L186.0 78.3M180.9 82.5H186.7M183.8 79.6V85.4M180.9 79.6L186.7 85.4M180.9 85.4L186.7 79.6M181.5 83.9H187.3M184.4 81.0V86.8M181.5 81.0L187.3 86.8M181.5 86.8L187.3 81.0M182.2 85.2H188.0M185.1 82.3V88.1M182.2 82.3L188.0 88.1M182.2 88.1L188.0 82.3M182.9 86.5H188.7M185.8 83.6V89.4M182.9 83.6L188.7 89.4M182.9 89.4L188.7 83.6M183.8 87.7H189.6M186.7 84.8V90.6M183.8 84.8L189.6 90.6M183.8 90.6L189.6 84.8M184.9 88.8H190.7M187.8 85.9V91.7M184.9 85.9L190.7 91.7M184.9 91.7L190.7 85.9M185.9 89.8H191.7M188.8 86.9V92.7M185.9 86.9L191.7 92.7M185.9 92.7L191.7 86.9M187.0 90.9H192.8M189.9 88.0V93.8M187.0 88.0L192.8 93.8M187.0 93.8L192.8 88.0M188.0 91.9H193.8M190.9 89.0V94.8M188.0 89.0L193.8 94.8M188.0 94.8L193.8 89.0M188.9 93.2H194.7M191.8 90.3V96.1M188.9 90.3L194.7 96.1M188.9 96.1L194.7 90.3M189.7 94.5H195.5M192.6 91.6V97.4M189.7 91.6L195.5 97.4M189.7 97.4L195.5 91.6M190.5 95.7H196.3M193.4 92.8V98.6M190.5 92.8L196.3 98.6M190.5 98.6L196.3 92.8M191.3 97.0H197.1M194.2 94.1V99.9M191.3 94.1L197.1 99.9M191.3 99.9L197.1 94.1M191.9 98.3H197.7M194.8 95.4V101.2M191.9 95.4L197.7 101.2M191.9 101.2L197.7 95.4M192.5 99.7H198.3M195.4 96.8V102.6M192.5 96.8L198.3 102.6M192.5 102.6L198.3 96.8M193.0 101.1H198.8M195.9 98.2V104.0M193.0 98.2L198.8 104.0M193.0 104.0L198.8 98.2M193.6 102.5H199.4M196.5 99.6V105.4M193.6 99.6L199.4 105.4M193.6 105.4L199.4 99.6M194.1 103.9H199.9M197.0 101.0V106.8M194.1 101.0L199.9 106.8M194.1 106.8L199.9 101.0M194.6 105.3H200.4M197.5 102.4V108.2M194.6 102.4L200.4 108.2M194.6 108.2L200.4 102.4M195.1 106.7H200.9M198.0 103.8V109.6M195.1 103.8L200.9 109.6M195.1 109.6L200.9 103.8M195.7 108.1H201.5M198.6 105.2V111.0M195.7 105.2L201.5 111.0M195.7 111.0L201.5 105.2M196.4 109.4H202.2M199.3 106.5V112.3M196.4 106.5L202.2 112.3M196.4 112.3L202.2 106.5M197.1 110.8H202.9M200.0 107.9V113.7M197.1 107.9L202.9 113.7M197.1 113.7L202.9 107.9M197.9 112.1H203.7M200.8 109.2V115.0M197.9 109.2L203.7 115.0M197.9 115.0L203.7 109.2M198.5 113.4H204.3M201.4 110.5V116.3M198.5 110.5L204.3 116.3M198.5 116.3L204.3 110.5M199.2 114.8H205.0M202.1 111.9V117.7M199.2 111.9L205.0 117.7M199.2 117.7L205.0 111.9M199.8 116.1H205.6M202.7 113.2V119.0M199.8 113.2L205.6 119.0M199.8 119.0L205.6 113.2M200.5 117.5H206.3M203.4 114.6V120.4M200.5 114.6L206.3 120.4M200.5 120.4L206.3 114.6M201.1 118.8H206.9M204.0 115.9V121.7M201.1 115.9L206.9 121.7M201.1 121.7L206.9 115.9M201.8 120.2H207.6M204.7 117.3V123.1M201.8 117.3L207.6 123.1M201.8 123.1L207.6 117.3M202.4 121.5H208.2M205.3 118.6V124.4M202.4 118.6L208.2 124.4M202.4 124.4L208.2 118.6M203.1 122.9H208.9M206.0 120.0V125.8M203.1 120.0L208.9 125.8M203.1 125.8L208.9 120.0M203.7 124.2H209.5M206.6 121.3V127.1M203.7 121.3L209.5 127.1M203.7 127.1L209.5 121.3M204.3 125.6H210.1M207.2 122.7V128.5M204.3 122.7L210.1 128.5M204.3 128.5L210.1 122.7M204.8 127.0H210.6M207.7 124.1V129.9M204.8 124.1L210.6 129.9M204.8 129.9L210.6 124.1M205.4 128.4H211.2M208.3 125.5V131.3M205.4 125.5L211.2 131.3M205.4 131.3L211.2 125.5M206.0 129.8H211.8M208.9 126.9V132.7M206.0 126.9L211.8 132.7M206.0 132.7L211.8 126.9M206.5 131.2H212.3M209.4 128.3V134.1M206.5 128.3L212.3 134.1M206.5 134.1L212.3 128.3M207.1 132.6H212.9M210.0 129.7V135.5M207.1 129.7L212.9 135.5M207.1 135.5L212.9 129.7M207.7 134.0H213.5M210.6 131.1V136.9M207.7 131.1L213.5 136.9M207.7 136.9L213.5 131.1M208.3 135.3H214.1M211.2 132.4V138.2M208.3 132.4L214.1 138.2M208.3 138.2L214.1 132.4M209.1 136.6H214.9M212.0 133.7V139.5M209.1 133.7L214.9 139.5M209.1 139.5L214.9 133.7M209.9 137.8H215.7M212.8 134.9V140.7M209.9 134.9L215.7 140.7M209.9 140.7L215.7 134.9M210.7 139.1H216.5M213.6 136.2V142.0M210.7 136.2L216.5 142.0M210.7 142.0L216.5 136.2M211.6 140.4H217.4M214.5 137.5V143.3M211.6 137.5L217.4 143.3M211.6 143.3L217.4 137.5M212.4 141.6H218.2M215.3 138.7V144.5M212.4 138.7L218.2 144.5M212.4 144.5L218.2 138.7M213.2 142.9H219.0M216.1 140.0V145.8M213.2 140.0L219.0 145.8M213.2 145.8L219.0 140.0M214.0 144.1H219.8M216.9 141.2V147.0M214.0 141.2L219.8 147.0M214.0 147.0L219.8 141.2M215.2 145.1H221.0M218.1 142.2V148.0M215.2 142.2L221.0 148.0M215.2 148.0L221.0 142.2M216.3 146.0H222.1M219.2 143.1V148.9M216.3 143.1L222.1 148.9M216.3 148.9L222.1 143.1M217.5 147.0H223.3M220.4 144.1V149.9M217.5 144.1L223.3 149.9M217.5 149.9L223.3 144.1M218.6 147.9H224.4M221.5 145.0V150.8M218.6 145.0L224.4 150.8M218.6 150.8L224.4 145.0M219.8 148.9H225.6M222.7 146.0V151.8M219.8 146.0L225.6 151.8M219.8 151.8L225.6 146.0M220.5 150.2H226.3M223.4 147.3V153.1M220.5 147.3L226.3 153.1M220.5 153.1L226.3 147.3M221.2 151.6H227.0M224.1 148.7V154.5M221.2 148.7L227.0 154.5M221.2 154.5L227.0 148.7M221.8 152.9H227.6M224.7 150.0V155.8M221.8 150.0L227.6 155.8M221.8 155.8L227.6 150.0M222.5 154.2H228.3M225.4 151.3V157.1M222.5 151.3L228.3 157.1M222.5 157.1L228.3 151.3M223.2 155.6H229.0M226.1 152.7V158.5M223.2 152.7L229.0 158.5M223.2 158.5L229.0 152.7M223.8 156.9H229.6M226.7 154.0V159.8M223.8 154.0L229.6 159.8M223.8 159.8L229.6 154.0M224.5 158.3H230.3M227.4 155.4V161.2M224.5 155.4L230.3 161.2M224.5 161.2L230.3 155.4M225.3 159.5H231.1M228.2 156.6V162.4M225.3 156.6L231.1 162.4M225.3 162.4L231.1 156.6M226.2 160.7H232.0M229.1 157.8V163.6M226.2 157.8L232.0 163.6M226.2 163.6L232.0 157.8M227.1 161.9H232.9M230.0 159.0V164.8M227.1 159.0L232.9 164.8M227.1 164.8L232.9 159.0M228.0 163.1H233.8M230.9 160.2V166.0M228.0 160.2L233.8 166.0M228.0 166.0L233.8 160.2M228.9 164.3H234.7M231.8 161.4V167.2M228.9 161.4L234.7 167.2M228.9 167.2L234.7 161.4M229.8 165.5H235.6M232.7 162.6V168.4M229.8 162.6L235.6 168.4M229.8 168.4L235.6 162.6M230.7 166.7H236.5M233.6 163.8V169.6M230.7 163.8L236.5 169.6M230.7 169.6L236.5 163.8M231.7 167.9H237.5M234.6 165.0V170.8M231.7 165.0L237.5 170.8M231.7 170.8L237.5 165.0M232.7 169.0H238.5M235.6 166.1V171.9M232.7 166.1L238.5 171.9M232.7 171.9L238.5 166.1M233.7 170.1H239.5M236.6 167.2V173.0M233.7 167.2L239.5 173.0M233.7 173.0L239.5 167.2M234.7 171.2H240.5M237.6 168.3V174.1M234.7 168.3L240.5 174.1M234.7 174.1L240.5 168.3M235.7 172.3H241.5M238.6 169.4V175.2M235.7 169.4L241.5 175.2M235.7 175.2L241.5 169.4M236.4 173.7H242.2M239.3 170.8V176.6M236.4 170.8L242.2 176.6M236.4 176.6L242.2 170.8M237.0 175.0H242.8M239.9 172.1V177.9M237.0 172.1L242.8 177.9M237.0 177.9L242.8 172.1M237.7 176.3H243.5M240.6 173.4V179.2M237.7 173.4L243.5 179.2M237.7 179.2L243.5 173.4M238.4 177.7H244.2M241.3 174.8V180.6M238.4 174.8L244.2 180.6M238.4 180.6L244.2 174.8M239.1 179.0H244.9M242.0 176.1V181.9M239.1 176.1L244.9 181.9M239.1 181.9L244.9 176.1M239.8 180.3H245.6M242.7 177.4V183.2M239.8 177.4L245.6 183.2M239.8 183.2L245.6 177.4M240.5 181.7H246.3M243.4 178.8V184.6M240.5 178.8L246.3 184.6M240.5 184.6L246.3 178.8M241.1 183.0H246.9M244.0 180.1V185.9M241.1 180.1L246.9 185.9M241.1 185.9L246.9 180.1M241.8 184.4H247.6M244.7 181.5V187.3M241.8 181.5L247.6 187.3M241.8 187.3L247.6 181.5M242.5 185.7H248.3M245.4 182.8V188.6M242.5 182.8L248.3 188.6M242.5 188.6L248.3 182.8M243.2 187.0H249.0M246.1 184.1V189.9M243.2 184.1L249.0 189.9M243.2 189.9L249.0 184.1M243.8 188.4H249.6M246.7 185.5V191.3M243.8 185.5L249.6 191.3M243.8 191.3L249.6 185.5M244.5 189.7H250.3M247.4 186.8V192.6M244.5 186.8L250.3 192.6M244.5 192.6L250.3 186.8M245.2 191.1H251.0M248.1 188.2V194.0M245.2 188.2L251.0 194.0M245.2 194.0L251.0 188.2" fill="none" stroke="#0000ff" stroke-width="1.0" opacity="0.9"/>
<path d="M248.4 191.7 L254.2 201.7 L259.2 210.1 L261.8 216.7 L266.8 223.4 L271.8 228.4 L276.8 233.4 L281.0 240.1 L284.2 245.0 L289.2 255.0 L294.2 265.0 L300.1 275.1" fill="none" stroke="#0000ff" stroke-width="6.8" stroke-linejoin="round" stroke-linecap="round" opacity="1"/>
<path d="M244.5 191.5H251.7M248.1 187.9V195.1M244.5 187.9L251.7 195.1M244.5 195.1L251.7 187.9M245.6 192.7H252.8M249.2 189.1V196.3M245.6 189.1L252.8 196.3M245.6 196.3L252.8 189.1M245.9 194.1H253.1M249.5 190.5V197.7M245.9 190.5L253.1 197.7M245.9 197.7L253.1 190.5M246.3 194.8H253.5M249.9 191.2V198.4M246.3 191.2L253.5 198.4M246.3 198.4L253.5 191.2M247.2 195.6H254.4M250.8 192.0V199.2M247.2 192.0L254.4 199.2M247.2 199.2L254.4 192.0M247.7 197.0H254.9M251.3 193.4V200.6M247.7 193.4L254.9 200.6M247.7 200.6L254.9 193.4M248.6 197.6H255.8M252.2 194.0V201.2M248.6 194.0L255.8 201.2M248.6 201.2L255.8 194.0M249.0 198.7H256.2M252.6 195.1V202.3M249.0 195.1L256.2 202.3M249.0 202.3L256.2 195.1M249.8 199.8H257.0M253.4 196.2V203.4M249.8 196.2L257.0 203.4M249.8 203.4L257.0 196.2M249.9 201.0H257.1M253.5 197.4V204.6M249.9 197.4L257.1 204.6M249.9 204.6L257.1 197.4M251.0 202.0H258.2M254.6 198.4V205.6M251.0 198.4L258.2 205.6M251.0 205.6L258.2 198.4M251.2 203.3H258.4M254.8 199.7V206.9M251.2 199.7L258.4 206.9M251.2 206.9L258.4 199.7M252.2 204.4H259.4M255.8 200.8V208.0M252.2 200.8L259.4 208.0M252.2 208.0L259.4 200.8M252.5 205.1H259.7M256.1 201.5V208.7M252.5 201.5L259.7 208.7M252.5 208.7L259.7 201.5M253.1 206.2H260.3M256.7 202.6V209.8M253.1 202.6L260.3 209.8M253.1 209.8L260.3 202.6M253.8 207.1H261.0M257.4 203.5V210.7M253.8 203.5L261.0 210.7M253.8 210.7L261.0 203.5M254.7 208.5H261.9M258.3 204.9V212.1M254.7 204.9L261.9 212.1M254.7 212.1L261.9 204.9M255.2 209.1H262.4M258.8 205.5V212.7M255.2 205.5L262.4 212.7M255.2 212.7L262.4 205.5M255.8 210.3H263.0M259.4 206.7V213.9M255.8 206.7L263.0 213.9M255.8 213.9L263.0 206.7M256.4 211.6H263.6M260.0 208.0V215.2M256.4 208.0L263.6 215.2M256.4 215.2L263.6 208.0M256.8 212.7H264.0M260.4 209.1V216.3M256.8 209.1L264.0 216.3M256.8 216.3L264.0 209.1M257.0 213.9H264.2M260.6 210.3V217.5M257.0 210.3L264.2 217.5M257.0 217.5L264.2 210.3M257.7 214.7H264.9M261.3 211.1V218.3M257.7 211.1L264.9 218.3M257.7 218.3L264.9 211.1M257.7 215.9H264.9M261.3 212.3V219.5M257.7 212.3L264.9 219.5M257.7 219.5L264.9 212.3M258.4 216.8H265.6M262.0 213.2V220.4M258.4 213.2L265.6 220.4M258.4 220.4L265.6 213.2M259.0 218.0H266.2M262.6 214.4V221.6M259.0 214.4L266.2 221.6M259.0 221.6L266.2 214.4M259.6 219.1H266.8M263.2 215.5V222.7M259.6 215.5L266.8 222.7M259.6 222.7L266.8 215.5M260.7 219.8H267.9M264.3 216.2V223.4M260.7 216.2L267.9 223.4M260.7 223.4L267.9 216.2M261.2 220.8H268.4M264.8 217.2V224.4M261.2 217.2L268.4 224.4M261.2 224.4L268.4 217.2M261.9 222.0H269.1M265.5 218.4V225.6M261.9 218.4L269.1 225.6M261.9 225.6L269.1 218.4M262.7 222.8H269.9M266.3 219.2V226.4M262.7 219.2L269.9 226.4M262.7 226.4L269.9 219.2M263.3 223.9H270.5M266.9 220.3V227.5M263.3 220.3L270.5 227.5M263.3 227.5L270.5 220.3M264.2 224.4H271.4M267.8 220.8V228.0M264.2 220.8L271.4 228.0M264.2 228.0L271.4 220.8M264.9 225.7H272.1M268.5 222.1V229.3M264.9 222.1L272.1 229.3M264.9 229.3L272.1 222.1M266.0 226.5H273.2M269.6 222.9V230.1M266.0 222.9L273.2 230.1M266.0 230.1L273.2 222.9M267.1 227.4H274.3M270.7 223.8V231.0M267.1 223.8L274.3 231.0M267.1 231.0L274.3 223.8M267.9 228.2H275.1M271.5 224.6V231.8M267.9 224.6L275.1 231.8M267.9 231.8L275.1 224.6M268.8 229.0H276.0M272.4 225.4V232.6M268.8 225.4L276.0 232.6M268.8 232.6L276.0 225.4M269.2 229.6H276.4M272.8 226.0V233.2M269.2 226.0L276.4 233.2M269.2 233.2L276.4 226.0M270.3 230.8H277.5M273.9 227.2V234.4M270.3 227.2L277.5 234.4M270.3 234.4L277.5 227.2M271.3 231.4H278.5M274.9 227.8V235.0M271.3 227.8L278.5 235.0M271.3 235.0L278.5 227.8M272.1 232.1H279.3M275.7 228.5V235.7M272.1 228.5L279.3 235.7M272.1 235.7L279.3 228.5M273.1 233.1H280.3M276.7 229.5V236.7M273.1 229.5L280.3 236.7M273.1 236.7L280.3 229.5M273.5 233.9H280.7M277.1 230.3V237.5M273.5 230.3L280.7 237.5M273.5 237.5L280.7 230.3M274.5 235.0H281.7M278.1 231.4V238.6M274.5 231.4L281.7 238.6M274.5 238.6L281.7 231.4M274.6 235.8H281.8M278.2 232.2V239.4M274.6 232.2L281.8 239.4M274.6 239.4L281.8 232.2M275.6 237.1H282.8M279.2 233.5V240.7M275.6 233.5L282.8 240.7M275.6 240.7L282.8 233.5M276.3 237.8H283.5M279.9 234.2V241.4M276.3 234.2L283.5 241.4M276.3 241.4L283.5 234.2M276.7 239.2H283.9M280.3 235.6V242.8M276.7 235.6L283.9 242.8M276.7 242.8L283.9 235.6M277.1 239.8H284.3M280.7 236.2V243.4M277.1 236.2L284.3 243.4M277.1 243.4L284.3 236.2M278.1 240.9H285.3M281.7 237.3V244.5M278.1 237.3L285.3 244.5M278.1 244.5L285.3 237.3M278.5 241.9H285.7M282.1 238.3V245.5M278.5 238.3L285.7 245.5M278.5 245.5L285.7 238.3M279.4 243.1H286.6M283.0 239.5V246.7M279.4 239.5L286.6 246.7M279.4 246.7L286.6 239.5M279.8 243.8H287.0M283.4 240.2V247.4M279.8 240.2L287.0 247.4M279.8 247.4L287.0 240.2M280.9 245.2H288.1M284.5 241.6V248.8M280.9 241.6L288.1 248.8M280.9 248.8L288.1 241.6M281.0 246.4H288.2M284.6 242.8V250.0M281.0 242.8L288.2 250.0M281.0 250.0L288.2 242.8M281.4 247.2H288.6M285.0 243.6V250.8M281.4 243.6L288.6 250.8M281.4 250.8L288.6 243.6M282.5 248.4H289.7M286.1 244.8V252.0M282.5 244.8L289.7 252.0M282.5 252.0L289.7 244.8M282.7 249.6H289.9M286.3 246.0V253.2M282.7 246.0L289.9 253.2M282.7 253.2L289.9 246.0M283.4 250.7H290.6M287.0 247.1V254.3M283.4 247.1L290.6 254.3M283.4 254.3L290.6 247.1M284.1 251.5H291.3M287.7 247.9V255.1M284.1 247.9L291.3 255.1M284.1 255.1L291.3 247.9M284.5 252.6H291.7M288.1 249.0V256.2M284.5 249.0L291.7 256.2M284.5 256.2L291.7 249.0M285.2 253.9H292.4M288.8 250.3V257.5M285.2 250.3L292.4 257.5M285.2 257.5L292.4 250.3M285.6 254.9H292.8M289.2 251.3V258.5M285.6 251.3L292.8 258.5M285.6 258.5L292.8 251.3M286.3 255.7H293.5M289.9 252.1V259.3M286.3 252.1L293.5 259.3M286.3 259.3L293.5 252.1M286.4 257.1H293.6M290.0 253.5V260.7M286.4 253.5L293.6 260.7M286.4 260.7L293.6 253.5M287.3 258.0H294.5M290.9 254.4V261.6M287.3 254.4L294.5 261.6M287.3 261.6L294.5 254.4M287.6 259.0H294.8M291.2 255.4V262.6M287.6 255.4L294.8 262.6M287.6 262.6L294.8 255.4M288.4 260.3H295.6M292.0 256.7V263.9M288.4 256.7L295.6 263.9M288.4 263.9L295.6 256.7M288.7 260.9H295.9M292.3 257.3V264.5M288.7 257.3L295.9 264.5M288.7 264.5L295.9 257.3M289.4 262.2H296.6M293.0 258.6V265.8M289.4 258.6L296.6 265.8M289.4 265.8L296.6 258.6M289.6 263.2H296.8M293.2 259.6V266.8M289.6 259.6L296.8 266.8M289.6 266.8L296.8 259.6M290.4 264.1H297.6M294.0 260.5V267.7M290.4 260.5L297.6 267.7M290.4 267.7L297.6 260.5M290.6 265.4H297.8M294.2 261.8V269.0M290.6 261.8L297.8 269.0M290.6 269.0L297.8 261.8M291.7 266.7H298.9M295.3 263.1V270.3M291.7 263.1L298.9 270.3M291.7 270.3L298.9 263.1M292.4 267.6H299.6M296.0 264.0V271.2M292.4 264.0L299.6 271.2M292.4 271.2L299.6 264.0M292.7 268.6H299.9M296.3 265.0V272.2M292.7 265.0L299.9 272.2M292.7 272.2L299.9 265.0M293.3 269.6H300.5M296.9 266.0V273.2M293.3 266.0L300.5 273.2M293.3 273.2L300.5 266.0M294.1 270.9H301.3M297.7 267.3V274.5M294.1 267.3L301.3 274.5M294.1 274.5L301.3 267.3M294.5 271.8H301.7M298.1 268.2V275.4M294.5 268.2L301.7 275.4M294.5 275.4L301.7 268.2M295.0 272.6H302.2M298.6 269.0V276.2M295.0 269.0L302.2 276.2M295.0 276.2L302.2 269.0M295.7 273.8H302.9M299.3 270.2V277.4M295.7 270.2L302.9 277.4M295.7 277.4L302.9 270.2M296.4 275.1H303.6M300.0 271.5V278.7M296.4 271.5L303.6 278.7M296.4 278.7L303.6 271.5" fill="none" stroke="#0000ff" stroke-width="1.0" opacity="0.75"/>
<path d="M300.1 275.1 L306.8 283.4 L313.4 291.8 L320.9 300.1" fill="none" stroke="#0000ff" stroke-width="2.5" stroke-linejoin="round" stroke-linecap="round" opacity="0.4"/>
<path d="M297.0 275.2H302.8M299.9 272.3V278.1M297.0 272.3L302.8 278.1M297.0 278.1L302.8 272.3M298.9 277.0H304.7M301.8 274.1V279.9M298.9 274.1L304.7 279.9M298.9 279.9L304.7 274.1M300.0 278.4H305.8M302.9 275.5V281.3M300.0 275.5L305.8 281.3M300.0 281.3L305.8 275.5M301.3 280.5H307.1M304.2 277.6V283.4M301.3 277.6L307.1 283.4M301.3 283.4L307.1 277.6M303.0 282.0H308.8M305.9 279.1V284.9M303.0 279.1L308.8 284.9M303.0 284.9L308.8 279.1M304.3 283.9H310.1M307.2 281.0V286.8M304.3 281.0L310.1 286.8M304.3 286.8L310.1 281.0M305.7 285.3H311.5M308.6 282.4V288.2M305.7 282.4L311.5 288.2M305.7 288.2L311.5 282.4M306.8 287.3H312.6M309.7 284.4V290.2M306.8 284.4L312.6 290.2M306.8 290.2L312.6 284.4M308.1 289.0H313.9M311.0 286.1V291.9M308.1 286.1L313.9 291.9M308.1 291.9L313.9 286.1M309.5 290.5H315.3M312.4 287.6V293.4M309.5 287.6L315.3 293.4M309.5 293.4L315.3 287.6M310.9 292.1H316.7M313.8 289.2V295.0M310.9 289.2L316.7 295.0M310.9 295.0L316.7 289.2M312.3 293.9H318.1M315.2 291.0V296.8M312.3 291.0L318.1 296.8M312.3 296.8L318.1 291.0M313.6 295.4H319.4M316.5 292.5V298.3M313.6 292.5L319.4 298.3M313.6 298.3L319.4 292.5M315.2 297.4H321.0M318.1 294.5V300.3M315.2 294.5L321.0 300.3M315.2 300.3L321.0 294.5M316.9 298.7H322.7M319.8 295.8V301.6M316.9 295.8L322.7 301.6M316.9 301.6L322.7 295.8" fill="none" stroke="#0000ff" stroke-width="1.0" opacity="0.85"/>
<path d="M318.2 300.0H324.0M321.1 297.1V302.9M318.2 297.1L324.0 302.9M318.2 302.9L324.0 297.1M320.4 302.3H326.2M323.3 299.4V305.2M320.4 299.4L326.2 305.2M320.4 305.2L326.2 299.4M322.9 304.3H328.7M325.8 301.4V307.2M322.9 301.4L328.7 307.2M322.9 307.2L328.7 301.4M325.3 306.4H331.1M328.2 303.5V309.3M325.3 303.5L331.1 309.3M325.3 309.3L331.1 303.5M327.9 308.3H333.7M330.8 305.4V311.2M327.9 305.4L333.7 311.2M327.9 311.2L333.7 305.4M330.7 310.1H336.5M333.6 307.2V313.0M330.7 307.2L336.5 313.0M330.7 313.0L336.5 307.2M333.0 311.7H338.8M335.9 308.8V314.6M333.0 308.8L338.8 314.6M333.0 314.6L338.8 308.8M335.8 313.8H341.6M338.7 310.9V316.7M335.8 310.9L341.6 316.7M335.8 316.7L341.6 310.9M337.8 315.9H343.6M340.7 313.0V318.8M337.8 313.0L343.6 318.8M337.8 318.8L343.6 313.0M340.4 318.3H346.2M343.3 315.4V321.2M340.4 315.4L346.2 321.2M340.4 321.2L346.2 315.4M342.8 320.2H348.6M345.7 317.3V323.1M342.8 317.3L348.6 323.1M342.8 323.1L348.6 317.3" fill="none" stroke="#0000ff" stroke-width="1.0" opacity="0.85"/>
<path d="M343.8 320.9H349.6M346.7 318.0V323.8M343.8 318.0L349.6 323.8M343.8 323.8L349.6 318.0M348.8 325.1H354.6M351.7 322.2V328.0M348.8 322.2L354.6 328.0M348.8 328.0L354.6 322.2M353.8 329.2H359.6M356.7 326.3V332.1M353.8 326.3L359.6 332.1M353.8 332.1L359.6 326.3M360.5 334.2H366.3M363.4 331.3V337.1M360.5 331.3L366.3 337.1M360.5 337.1L366.3 331.3M367.2 338.4H373.0M370.1 335.5V341.3M367.2 335.5L373.0 341.3M367.2 341.3L373.0 335.5M371.4 341.8H377.2M374.3 338.9V344.7M371.4 338.9L377.2 344.7M371.4 344.7L377.2 338.9M376.4 345.1H382.2M379.3 342.2V348.0M376.4 342.2L382.2 348.0M376.4 348.0L382.2 342.2M384.7 347.6H390.5M387.6 344.7V350.5M384.7 344.7L390.5 350.5M384.7 350.5L390.5 344.7M393.6 350.9H399.4M396.5 348.0V353.8M393.6 348.0L399.4 353.8M393.6 353.8L399.4 348.0M403.2 353.0H409.0M406.1 350.1V355.9M403.2 350.1L409.0 355.9M403.2 355.9L409.0 350.1M415.5 356.0H421.3M418.4 353.1V358.9M415.5 353.1L421.3 358.9M415.5 358.9L421.3 353.1M424.7 359.5H430.5M427.6 356.6V362.4M424.7 356.6L430.5 362.4M424.7 362.4L430.5 356.6M437.4 362.2H443.2M440.3 359.3V365.1M437.4 359.3L443.2 365.1M437.4 365.1L443.2 359.3M451.3 365.7H457.1M454.2 362.8V368.6M451.3 362.8L457.1 368.6M451.3 368.6L457.1 362.8M467.2 369.1H473.0M470.1 366.2V372.0M467.2 366.2L473.0 372.0M467.2 372.0L473.0 366.2M490.8 372.0H496.6M493.7 369.1V374.9M490.8 369.1L496.6 374.9M490.8 374.9L496.6 369.1M526.8 374.3H532.6M529.7 371.4V377.2M526.8 371.4L532.6 377.2M526.8 377.2L532.6 371.4" fill="none" stroke="#0000ff" stroke-width="1.0" opacity="0.9"/>
<path d="M151.0 72.5 L188.0 72.3 L193.6 74.6" fill="none" stroke="#ff00ff" stroke-width="3.0" stroke-linejoin="round" stroke-linecap="round" opacity="0.6"/>
<path d="M148.1 69.6h5.8v5.8h-5.8zM150.6 69.6h5.8v5.8h-5.8zM153.1 69.6h5.8v5.8h-5.8zM155.6 69.6h5.8v5.8h-5.8zM158.1 69.5h5.8v5.8h-5.8zM160.6 69.5h5.8v5.8h-5.8zM163.1 69.5h5.8v5.8h-5.8zM165.6 69.5h5.8v5.8h-5.8zM168.1 69.5h5.8v5.8h-5.8zM170.6 69.5h5.8v5.8h-5.8zM173.1 69.5h5.8v5.8h-5.8zM175.6 69.5h5.8v5.8h-5.8zM178.1 69.4h5.8v5.8h-5.8zM180.6 69.4h5.8v5.8h-5.8zM183.1 69.4h5.8v5.8h-5.8zM185.6 69.6h5.8v5.8h-5.8zM187.9 70.5h5.8v5.8h-5.8zM190.2 71.5h5.8v5.8h-5.8z" fill="none" stroke="#ff00ff" stroke-width="1.0" opacity="0.85"/>
<path d="M190.7 71.7h5.8v5.8h-5.8zM192.3 73.3h5.8v5.8h-5.8zM193.9 74.7h5.8v5.8h-5.8zM195.8 75.7h5.8v5.8h-5.8zM197.7 76.9h5.8v5.8h-5.8zM199.4 78.2h5.8v5.8h-5.8zM201.5 78.8h5.8v5.8h-5.8zM203.3 79.9h5.8v5.8h-5.8zM204.9 81.5h5.8v5.8h-5.8zM205.8 83.4h5.8v5.8h-5.8zM206.5 85.5h5.8v5.8h-5.8z" fill="none" stroke="#ff00ff" stroke-width="1.0" opacity="0.85"/>
<path d="M209.7 89.2 L215.0 89.5 L221.4 89.2 L241.0 86.8 L263.0 87.5 L268.0 91.0 L272.0 96.0 L280.0 97.0 L290.0 97.5 L294.0 98.8 L297.5 100.0 L301.0 103.0 L302.5 107.5 L306.0 112.0 L308.5 119.0 L309.0 122.5 L312.5 126.0 L325.0 127.0 L330.0 130.0 L336.7 138.4 L343.4 145.0 L350.0 150.0 L358.4 152.6 L365.1 152.6" fill="none" stroke="#ff00ff" stroke-width="6.5" stroke-linejoin="round" stroke-linecap="round" opacity="1"/>
<path d="M206.8 86.3h5.8v5.8h-5.8zM208.3 86.4h5.8v5.8h-5.8zM209.8 86.5h5.8v5.8h-5.8zM211.3 86.6h5.8v5.8h-5.8zM212.8 86.6h5.8v5.8h-5.8zM214.3 86.5h5.8v5.8h-5.8zM215.8 86.4h5.8v5.8h-5.8zM217.3 86.4h5.8v5.8h-5.8zM218.8 86.3h5.8v5.8h-5.8zM220.3 86.1h5.8v5.8h-5.8zM221.8 85.9h5.8v5.8h-5.8zM223.2 85.7h5.8v5.8h-5.8zM224.7 85.5h5.8v5.8h-5.8zM226.2 85.4h5.8v5.8h-5.8zM227.7 85.2h5.8v5.8h-5.8zM229.2 85.0h5.8v5.8h-5.8zM230.7 84.8h5.8v5.8h-5.8zM232.2 84.6h5.8v5.8h-5.8zM233.7 84.4h5.8v5.8h-5.8zM235.2 84.3h5.8v5.8h-5.8zM236.6 84.1h5.8v5.8h-5.8zM238.1 83.9h5.8v5.8h-5.8zM239.6 83.9h5.8v5.8h-5.8zM241.1 84.0h5.8v5.8h-5.8zM242.6 84.0h5.8v5.8h-5.8zM244.1 84.1h5.8v5.8h-5.8zM245.6 84.1h5.8v5.8h-5.8zM247.1 84.2h5.8v5.8h-5.8zM248.6 84.2h5.8v5.8h-5.8zM250.1 84.3h5.8v5.8h-5.8zM251.6 84.3h5.8v5.8h-5.8zM253.1 84.4h5.8v5.8h-5.8zM254.6 84.4h5.8v5.8h-5.8zM256.1 84.5h5.8v5.8h-5.8zM257.6 84.5h5.8v5.8h-5.8zM259.1 84.6h5.8v5.8h-5.8zM260.5 84.9h5.8v5.8h-5.8zM261.8 85.8h5.8v5.8h-5.8zM263.0 86.6h5.8v5.8h-5.8zM264.2 87.5h5.8v5.8h-5.8zM265.4 88.4h5.8v5.8h-5.8zM266.3 89.6h5.8v5.8h-5.8zM267.2 90.8h5.8v5.8h-5.8zM268.2 91.9h5.8v5.8h-5.8zM269.1 93.1h5.8v5.8h-5.8zM270.6 93.3h5.8v5.8h-5.8zM272.1 93.5h5.8v5.8h-5.8zM273.6 93.7h5.8v5.8h-5.8zM275.1 93.8h5.8v5.8h-5.8zM276.6 94.0h5.8v5.8h-5.8zM278.1 94.1h5.8v5.8h-5.8zM279.6 94.2h5.8v5.8h-5.8zM281.1 94.3h5.8v5.8h-5.8zM282.6 94.4h5.8v5.8h-5.8zM284.0 94.4h5.8v5.8h-5.8zM285.5 94.5h5.8v5.8h-5.8zM287.0 94.6h5.8v5.8h-5.8zM288.5 95.0h5.8v5.8h-5.8zM289.9 95.5h5.8v5.8h-5.8zM291.3 96.0h5.8v5.8h-5.8zM292.7 96.5h5.8v5.8h-5.8zM294.2 97.0h5.8v5.8h-5.8zM295.4 97.8h5.8v5.8h-5.8zM296.5 98.8h5.8v5.8h-5.8zM297.7 99.7h5.8v5.8h-5.8zM298.4 101.0h5.8v5.8h-5.8zM298.9 102.4h5.8v5.8h-5.8zM299.3 103.8h5.8v5.8h-5.8zM300.0 105.1h5.8v5.8h-5.8zM300.9 106.3h5.8v5.8h-5.8zM301.9 107.5h5.8v5.8h-5.8zM302.8 108.7h5.8v5.8h-5.8zM303.4 110.0h5.8v5.8h-5.8zM303.9 111.4h5.8v5.8h-5.8zM304.4 112.9h5.8v5.8h-5.8zM304.9 114.3h5.8v5.8h-5.8zM305.4 115.7h5.8v5.8h-5.8zM305.7 117.1h5.8v5.8h-5.8zM306.0 118.6h5.8v5.8h-5.8zM306.5 120.0h5.8v5.8h-5.8zM307.5 121.0h5.8v5.8h-5.8zM308.6 122.1h5.8v5.8h-5.8zM309.7 123.1h5.8v5.8h-5.8zM311.2 123.2h5.8v5.8h-5.8zM312.7 123.3h5.8v5.8h-5.8zM314.2 123.5h5.8v5.8h-5.8zM315.6 123.6h5.8v5.8h-5.8zM317.1 123.7h5.8v5.8h-5.8zM318.6 123.8h5.8v5.8h-5.8zM320.1 123.9h5.8v5.8h-5.8zM321.6 124.1h5.8v5.8h-5.8zM323.0 124.6h5.8v5.8h-5.8zM324.3 125.4h5.8v5.8h-5.8zM325.6 126.2h5.8v5.8h-5.8zM326.8 126.9h5.8v5.8h-5.8zM327.8 128.0h5.8v5.8h-5.8zM328.8 129.2h5.8v5.8h-5.8zM329.7 130.4h5.8v5.8h-5.8zM330.7 131.6h5.8v5.8h-5.8zM331.6 132.7h5.8v5.8h-5.8zM332.5 133.9h5.8v5.8h-5.8zM333.5 135.1h5.8v5.8h-5.8zM334.5 136.2h5.8v5.8h-5.8zM335.5 137.2h5.8v5.8h-5.8zM336.6 138.3h5.8v5.8h-5.8zM337.7 139.3h5.8v5.8h-5.8zM338.8 140.4h5.8v5.8h-5.8zM339.8 141.4h5.8v5.8h-5.8zM340.9 142.4h5.8v5.8h-5.8zM342.1 143.3h5.8v5.8h-5.8zM343.3 144.2h5.8v5.8h-5.8zM344.5 145.1h5.8v5.8h-5.8zM345.7 146.1h5.8v5.8h-5.8zM346.9 147.0h5.8v5.8h-5.8zM348.3 147.5h5.8v5.8h-5.8zM349.7 147.9h5.8v5.8h-5.8zM351.2 148.4h5.8v5.8h-5.8zM352.6 148.8h5.8v5.8h-5.8zM354.0 149.2h5.8v5.8h-5.8zM355.5 149.7h5.8v5.8h-5.8zM357.0 149.7h5.8v5.8h-5.8zM358.5 149.7h5.8v5.8h-5.8zM360.0 149.7h5.8v5.8h-5.8zM361.5 149.7h5.8v5.8h-5.8z" fill="none" stroke="#ff00ff" stroke-width="1.0" opacity="0.85"/>
<path d="M362.8 148.8h6.0v6.0h-6.0zM363.8 152.4h6.0v6.0h-6.0zM365.1 153.3h6.0v6.0h-6.0zM365.4 156.2h6.0v6.0h-6.0zM367.1 156.8h6.0v6.0h-6.0zM366.7 159.7h6.0v6.0h-6.0zM367.1 161.3h6.0v6.0h-6.0zM366.5 164.0h6.0v6.0h-6.0zM367.0 167.3h6.0v6.0h-6.0zM368.5 169.5h6.0v6.0h-6.0zM368.9 170.2h6.0v6.0h-6.0zM369.2 173.5h6.0v6.0h-6.0zM369.8 175.4h6.0v6.0h-6.0zM371.8 176.7h6.0v6.0h-6.0zM372.5 178.9h6.0v6.0h-6.0zM372.5 182.5h6.0v6.0h-6.0zM373.2 183.8h6.0v6.0h-6.0zM374.6 186.6h6.0v6.0h-6.0zM376.9 187.4h6.0v6.0h-6.0zM377.3 190.5h6.0v6.0h-6.0zM378.8 190.9h6.0v6.0h-6.0zM380.6 193.0h6.0v6.0h-6.0zM381.7 194.0h6.0v6.0h-6.0zM384.3 196.9h6.0v6.0h-6.0zM385.8 199.2h6.0v6.0h-6.0zM385.5 200.3h6.0v6.0h-6.0zM386.7 202.9h6.0v6.0h-6.0zM388.3 204.0h6.0v6.0h-6.0zM387.7 207.2h6.0v6.0h-6.0zM388.4 208.3h6.0v6.0h-6.0zM388.4 211.4h6.0v6.0h-6.0zM389.7 214.5h6.0v6.0h-6.0zM389.8 216.1h6.0v6.0h-6.0zM389.3 218.0h6.0v6.0h-6.0zM389.8 220.8h6.0v6.0h-6.0zM390.2 222.1h6.0v6.0h-6.0zM391.2 224.8h6.0v6.0h-6.0zM391.9 227.2h6.0v6.0h-6.0zM392.5 229.8h6.0v6.0h-6.0zM394.8 231.1h6.0v6.0h-6.0zM394.8 232.6h6.0v6.0h-6.0zM397.1 235.3h6.0v6.0h-6.0zM398.1 237.9h6.0v6.0h-6.0zM397.9 239.3h6.0v6.0h-6.0z" fill="none" stroke="#ff00ff" stroke-width="1.0" opacity="0.85"/>
<path d="M398.6 240.1h5.8v5.8h-5.8zM399.0 242.4h5.8v5.8h-5.8zM399.5 244.8h5.8v5.8h-5.8zM400.6 247.0h5.8v5.8h-5.8zM400.9 248.8h5.8v5.8h-5.8zM400.7 251.3h5.8v5.8h-5.8zM401.6 253.4h5.8v5.8h-5.8zM402.1 254.6h5.8v5.8h-5.8zM403.9 256.8h5.8v5.8h-5.8z" fill="none" stroke="#ff00ff" stroke-width="1.0" opacity="0.8"/>
<path d="M401.6 253.3h5.8v5.8h-5.8zM402.6 249.1h5.8v5.8h-5.8zM404.6 257.1h5.8v5.8h-5.8zM407.6 260.9h5.8v5.8h-5.8zM410.1 264.6h5.8v5.8h-5.8zM414.6 267.1h5.8v5.8h-5.8zM418.4 269.6h5.8v5.8h-5.8zM421.6 272.9h5.8v5.8h-5.8zM423.4 276.6h5.8v5.8h-5.8zM425.9 280.9h5.8v5.8h-5.8zM428.4 285.1h5.8v5.8h-5.8zM431.6 290.4h5.8v5.8h-5.8z" fill="none" stroke="#ff00ff" stroke-width="1.0" opacity="0.8"/>
<path d="M132.3 76.2h5.8v5.8h-5.8zM131.7 76.6h5.8v5.8h-5.8zM137.6 69.6h5.8v5.8h-5.8zM141.5 70.4h5.8v5.8h-5.8zM145.9 70.4h5.8v5.8h-5.8zM148.1 70.1h5.8v5.8h-5.8zM431.6 290.4h5.8v5.8h-5.8zM445.4 292.1h5.8v5.8h-5.8zM452.6 294.6h5.8v5.8h-5.8zM455.9 298.4h5.8v5.8h-5.8zM459.6 302.1h5.8v5.8h-5.8zM463.4 305.1h5.8v5.8h-5.8zM471.4 309.6h5.8v5.8h-5.8zM478.4 314.1h5.8v5.8h-5.8zM483.4 320.1h5.8v5.8h-5.8zM495.4 325.1h5.8v5.8h-5.8zM505.1 331.4h5.8v5.8h-5.8zM516.6 336.6h5.8v5.8h-5.8zM528.4 343.4h5.8v5.8h-5.8zM541.4 350.4h5.8v5.8h-5.8zM566.4 359.1h5.8v5.8h-5.8z" fill="none" stroke="#ff00ff" stroke-width="1.0" opacity="0.8"/>
<path d="M230.7 405.8V399.8M230.7 68.5V74.5M125.7 338.3H131.7M650.6 338.3H644.6M335.7 405.8V399.8M335.7 68.5V74.5M125.7 270.9H131.7M650.6 270.9H644.6M440.6 405.8V399.8M440.6 68.5V74.5M125.7 203.4H131.7M650.6 203.4H644.6M545.6 405.8V399.8M545.6 68.5V74.5M125.7 136.0H131.7M650.6 136.0H644.6" stroke="#000" stroke-width="1.1" fill="none"/>
<path d="M125.7 68.5H650.6V406.0H125.7Z" fill="none" stroke="#222" stroke-width="1.4"/>
<rect x="411.7" y="74.6" width="225.5" height="90.5" fill="#fff" stroke="#222" stroke-width="1.3"/>
<text transform="translate(549.0,93.7) scale(1,1.03)" text-anchor="end" font-size="22.9">Univariate</text>
<path d="M589.6 85.7H595.6M592.6 82.7V88.7" fill="none" stroke="#ff0000" stroke-width="1.0" opacity="0.8"/>
<text transform="translate(549.0,116.3) scale(1,1.03)" text-anchor="end" font-size="22.9">Basic</text>
<path d="M589.6 105.8L595.6 111.8M589.6 111.8L595.6 105.8" fill="none" stroke="#00ff00" stroke-width="1.0" opacity="0.8"/>
<text transform="translate(549.0,139.0) scale(1,1.03)" text-anchor="end" font-size="22.9">LCMS</text>
<path d="M589.6 131.4H595.6M592.6 128.4V134.4M589.6 128.4L595.6 134.4M589.6 134.4L595.6 128.4" fill="none" stroke="#0000ff" stroke-width="1.0" opacity="0.8"/>
<text transform="translate(549.0,161.3) scale(1,1.03)" text-anchor="end" font-size="22.9">SCT</text>
<path d="M589.6 151.3h6.0v6.0h-6.0z" fill="none" stroke="#ff00ff" stroke-width="1.0" opacity="0.8"/>
<g font-family="Liberation Sans, sans-serif" fill="#000"><text transform="translate(128.7,437.1) scale(1,1.08)" text-anchor="middle" font-size="22.3">0</text><text transform="translate(112.0,413.7) scale(1,1.08)" text-anchor="end" font-size="22.3">0</text><text transform="translate(233.7,437.1) scale(1,1.08)" text-anchor="middle" font-size="22.3">0.2</text><text transform="translate(112.0,346.2) scale(1,1.08)" text-anchor="end" font-size="22.3">0.2</text><text transform="translate(338.7,437.1) scale(1,1.08)" text-anchor="middle" font-size="22.3">0.4</text><text transform="translate(112.0,278.8) scale(1,1.08)" text-anchor="end" font-size="22.3">0.4</text><text transform="translate(443.6,437.1) scale(1,1.08)" text-anchor="middle" font-size="22.3">0.6</text><text transform="translate(112.0,211.3) scale(1,1.08)" text-anchor="end" font-size="22.3">0.6</text><text transform="translate(548.6,437.1) scale(1,1.08)" text-anchor="middle" font-size="22.3">0.8</text><text transform="translate(112.0,143.9) scale(1,1.08)" text-anchor="end" font-size="22.3">0.8</text><text transform="translate(653.6,437.1) scale(1,1.08)" text-anchor="middle" font-size="22.3">1</text><text transform="translate(112.0,76.4) scale(1,1.08)" text-anchor="end" font-size="22.3">1</text><text transform="translate(387.3,41.5) scale(1,1.05)" text-anchor="middle" font-size="22.9">eQTL Linkage Prec/Rec; 300 Samples</text><text transform="translate(388.0,470.7) scale(1,1.05)" text-anchor="middle" font-size="22.9">Recall</text><text transform="translate(39.0,236.0) rotate(-90) scale(1,1.05)" text-anchor="middle" font-size="22.9">Precision</text></g>
</svg>
</body></html>
